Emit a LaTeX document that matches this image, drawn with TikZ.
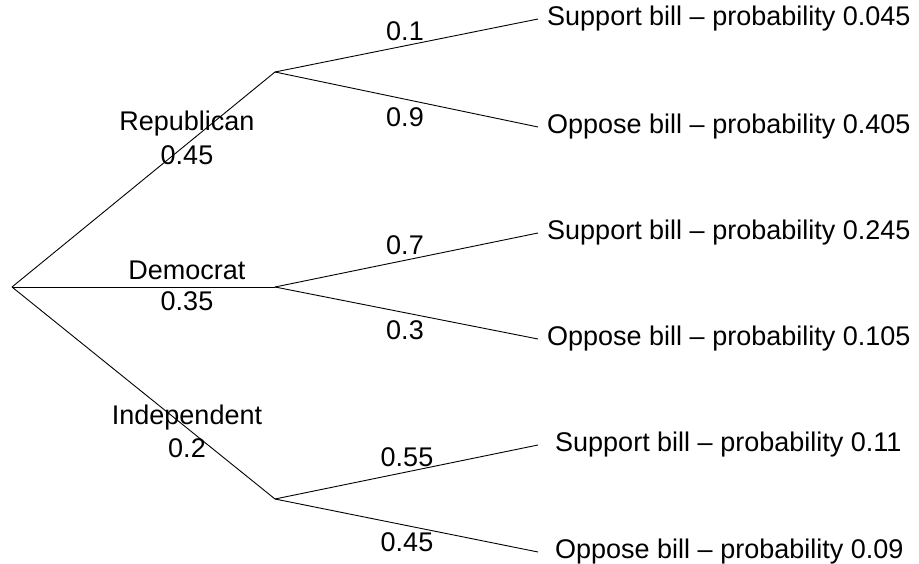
\documentclass[tikz,border=0pt]{standalone}
\usepackage{fontspec}
\setmainfont{Liberation Sans}
\begin{document}
\begin{tikzpicture}[x=1pt,y=-1pt,
  lbl/.style={font=\fontsize{27}{31}\selectfont, inner sep=0pt},
  leaf/.style={font=\fontsize{27}{31}\selectfont, anchor=west, inner ysep=0pt, inner xsep=9pt},
  leafwide/.style={leaf, inner xsep=17pt},
  edge/.style={line width=0.9pt}]
\useasboundingbox (0,0) rectangle (919,564);
\coordinate (r) at (12,287);
\coordinate (a) at (275,72);
\coordinate (b) at (275,287);
\coordinate (c) at (275,499);
\node[leaf] (l1) at (538,19) {Support bill -- probability 0.045};
\node[leaf] (l2) at (538,127) {Oppose bill -- probability 0.405};
\node[leaf] (l3) at (538,233) {Support bill -- probability 0.245};
\node[leaf] (l4) at (538,339) {Oppose bill -- probability 0.105};
\node[leafwide] (l5) at (538,445) {Support bill -- probability 0.11};
\node[leafwide] (l6) at (538,552) {Oppose bill -- probability 0.09};
\draw[edge] (r) -- (a);
\draw[edge] (r) -- (b);
\draw[edge] (r) -- (c);
\draw[edge] (a) -- (l1.west);
\draw[edge] (a) -- (l2.west);
\draw[edge] (b) -- (l3.west);
\draw[edge] (b) -- (l4.west);
\draw[edge] (c) -- (l5.west);
\draw[edge] (c) -- (l6.west);
\node[lbl] (rep) at (187,124) {Republican};
\node[lbl] (repp) at (187,155) {0.45};
\node[lbl] (dem) at (187,270) {Democrat};
\node[lbl] (demp) at (187,301) {0.35};
\node[lbl] (ind) at (187,418) {Independent};
\node[lbl] (indp) at (187,448) {0.2};
\node[lbl] (p1) at (405,31) {0.1};
\node[lbl] (p2) at (405,117) {0.9};
\node[lbl] (p3) at (405,245) {0.7};
\node[lbl] (p4) at (405,330) {0.3};
\node[lbl] (p5) at (407,457) {0.55};
\node[lbl] (p6) at (407,542) {0.45};
\end{tikzpicture}
\end{document}
